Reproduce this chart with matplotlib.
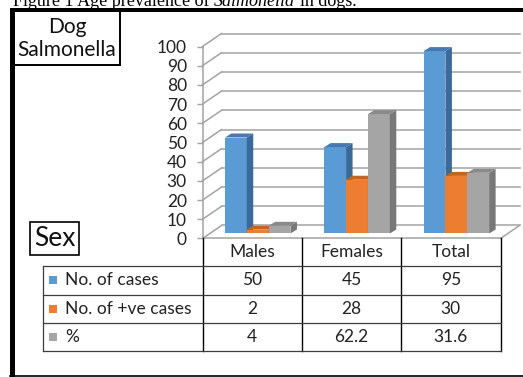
import matplotlib
matplotlib.use("Agg")
import matplotlib.pyplot as plt
from matplotlib.patches import Polygon, Rectangle
from matplotlib.transforms import blended_transform_factory
from matplotlib.lines import Line2D

# ---- data ----
categories = ["Males", "Females", "Total"]
series_names = ["No. of cases", "No. of +ve cases", "%"]
cases = [50, 45, 95]
positive = [2, 28, 30]
percent = [4, 62.2, 31.6]
percent_labels = ["4", "62.2", "31.6"]
y_ticks = list(range(0, 101, 10))

series_values = [cases, positive, percent]
series_text = [[str(v) for v in cases], [str(v) for v in positive], percent_labels]

front_colors = ["#5B9BD5", "#ED7D31", "#A5A5A5"]
side_colors = ["#3A6A99", "#B0591E", "#787878"]
top_colors = ["#4679B0", "#C4661F", "#8A8A8A"]

W, H = 523, 377
DPI = 100
FONT = "Lato"
TXT = "#222222"
GRID = "#A3A3A3"
FS = 12.5

fig = plt.figure(figsize=(W / DPI, H / DPI), dpi=DPI)
fig.patch.set_facecolor("white")


def fx(x):
    return x / W


def fy(y):
    return 1 - y / H


# ---- chart axes (front plane) ----
ax_l, ax_r, ax_top, ax_bot = 202.5, 500.5, 46.5, 238.5
ax = fig.add_axes([fx(ax_l), fy(ax_bot), (ax_r - ax_l) / W, (ax_bot - ax_top) / H])
ax.set_xlim(0, len(categories))
ax.set_ylim(0, 100)
ax.patch.set_visible(False)
for s in ["top", "right"]:
    ax.spines[s].set_visible(False)
for s in ["left", "bottom"]:
    ax.spines[s].set_color(GRID)
    ax.spines[s].set_linewidth(1.1)
ax.set_xticks([])
ax.set_yticks(y_ticks)
ax.set_yticklabels([str(t) for t in y_ticks], fontsize=FS, family=FONT, color=TXT)
ax.tick_params(axis="y", length=4.3, width=1.0, color=GRID, pad=7)

# pixel -> data scale
sx = len(categories) / (ax_r - ax_l)
sy = 100 / (ax_bot - ax_top)

# depth vectors in pixels (right, up)
depth = (19, 13)
bar_front = (6.5, 5)
bar_depth = (6.5, 4)

dX, dY = depth[0] * sx, depth[1] * sy
# side-wall diagonals and back-wall gridlines
for t in y_ticks:
    ax.add_line(Line2D([0, dX], [t, t + dY], color=GRID, lw=1.1, clip_on=False, zorder=1))
    ax.add_line(Line2D([dX, len(categories) + dX], [t + dY, t + dY], color=GRID, lw=1.1,
                       clip_on=False, zorder=1))
# floor right edge
ax.add_line(Line2D([len(categories), len(categories) + dX], [0, dY], color=GRID, lw=1.1,
                   clip_on=False, zorder=1))

# ---- 3D bars ----
bw = 0.22
g0 = 0.16
ox, oy = bar_front[0] * sx, bar_front[1] * sy
bx, by = bar_depth[0] * sx, bar_depth[1] * sy
for j in range(len(categories)):
    for i, vals in enumerate(series_values):
        v = vals[j]
        z = 3 + j * 3 + i
        x0 = j + g0 + i * bw + ox
        x1 = x0 + bw
        ax.bar(x0, v, width=bw, bottom=oy, align="edge", color=front_colors[i],
               linewidth=0, zorder=z, clip_on=False)
        ax.add_patch(Polygon([(x1, oy), (x1, oy + v), (x1 + bx, oy + v + by), (x1 + bx, oy + by)],
                             closed=True, facecolor=side_colors[i], edgecolor="none",
                             zorder=z, clip_on=False))
        ax.add_patch(Polygon([(x0, oy + v), (x1, oy + v), (x1 + bx, oy + v + by), (x0 + bx, oy + v + by)],
                             closed=True, facecolor=top_colors[i], edgecolor="none",
                             zorder=z, clip_on=False))

# ---- data table ----
LINE = "#3C3C3C"
tx = blended_transform_factory(ax.transData, fig.transFigure)
row_lines = [238.5, 266, 294.5, 322.5, 351]
table_left = 42.5

# column separators under the category axis
for c in range(len(categories) + 1):
    fig.add_artist(Line2D([c, c], [fy(row_lines[0]), fy(row_lines[-1])], transform=tx,
                          color="black", lw=1.0))
# horizontal rules
for yline in row_lines[1:]:
    fig.add_artist(Line2D([fx(table_left), fx(ax_r)], [fy(yline), fy(yline)],
                          transform=fig.transFigure, color=LINE, lw=0.9))
fig.add_artist(Line2D([fx(table_left), fx(table_left)], [fy(row_lines[1]), fy(row_lines[-1])],
                      transform=fig.transFigure, color=LINE, lw=0.9))

# category header
hy = (row_lines[0] + row_lines[1]) / 2
for c, name in enumerate(categories):
    fig.text(c + 0.5, fy(hy), name, transform=tx, ha="center", va="center",
             fontsize=FS, family=FONT, color=TXT)

# series rows with legend keys
for i, name in enumerate(series_names):
    yc = (row_lines[i + 1] + row_lines[i + 2]) / 2
    fig.add_artist(Rectangle((fx(49), fy(yc + 4)), 8 / W, 8 / H, transform=fig.transFigure,
                             facecolor=front_colors[i], edgecolor="none"))
    fig.text(fx(65), fy(yc), name, ha="left", va="center", fontsize=FS, family=FONT, color=TXT)
    for c in range(len(categories)):
        fig.text(c + 0.5, fy(yc), series_text[i][c], transform=tx, ha="center", va="center",
                 fontsize=FS, family=FONT, color=TXT)

# ---- boxes ----
fig.add_artist(Rectangle((fx(13), fy(65)), (120 - 13) / W, (65 - 10.5) / H,
                         transform=fig.transFigure, facecolor="white", edgecolor="black", lw=1.4))
fig.text(fx(67), fy(27), "Dog", ha="center", va="center", fontsize=15, family=FONT,
         color="#111111")
fig.text(fx(67), fy(50), "Salmonella", ha="center", va="center", fontsize=15, family=FONT,
         color="#111111")

fig.add_artist(Rectangle((fx(30), fy(255)), 49 / W, 33 / H, transform=fig.transFigure,
                         facecolor="white", edgecolor="black", lw=1.2))
fig.text(fx(54.5), fy(239), "Sex", ha="center", va="center", fontsize=19, family=FONT,
         color="#111111")

# ---- page caption, laid out piece by piece ----
renderer = fig.canvas.get_renderer()
cap_fs = 13
space_px = 0.25 * cap_fs * DPI / 72
cx = 13.0
for piece, style in [("Figure 1 Age prevalence of", "normal"), ("Salmonella", "italic"),
                     ("in dogs.", "normal")]:
    t = fig.text(fx(cx), fy(6.5), piece, ha="left", va="baseline", fontsize=cap_fs,
                 family="Liberation Serif", style=style, color="black")
    bb = t.get_window_extent(renderer)
    cx = bb.x1 + space_px

# ---- frame ----
fig.add_artist(Rectangle((fx(10), 0), 5 / W, fy(8), transform=fig.transFigure,
                         facecolor="black", edgecolor="none"))
fig.add_artist(Rectangle((fx(10), fy(11.5)), 1 - fx(10), 3.5 / H, transform=fig.transFigure,
                         facecolor="black", edgecolor="none"))
fig.add_artist(Line2D([fx(10), 1], [fy(375.5), fy(375.5)], transform=fig.transFigure,
                      color="black", lw=1.2))

fig.savefig("out.png", dpi=DPI, facecolor="white")
